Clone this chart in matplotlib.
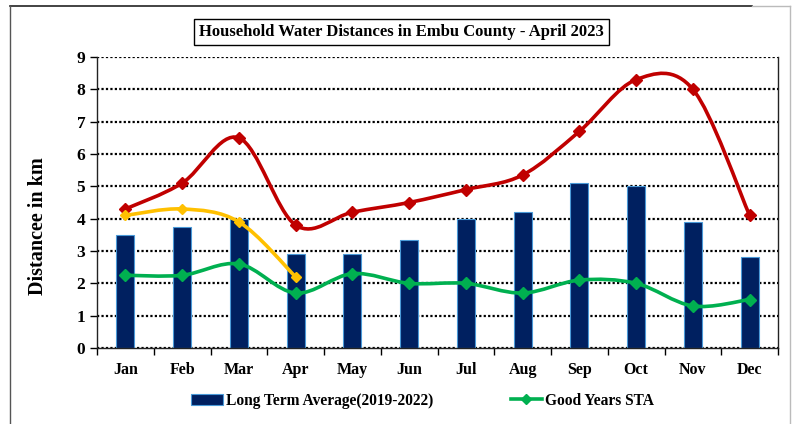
"""Household water distances chart for Embu County."""

import numpy as np
import matplotlib.pyplot as plt
from matplotlib.path import Path
from matplotlib.patches import PathPatch, Rectangle
from matplotlib.lines import Line2D

plt.rcParams['font.family'] = ['Liberation Serif', 'DejaVu Serif']
plt.rcParams['font.weight'] = 'bold'

months = ['Jan', 'Feb', 'Mar', 'Apr', 'May', 'Jun',
          'Jul', 'Aug', 'Sep', 'Oct', 'Nov', 'Dec']
long_term_avg = [3.5, 3.75, 4.0, 2.9, 2.9, 3.35, 4.0, 4.2, 5.1, 5.0, 3.9, 2.8]
good_years_sta = [2.25, 2.25, 2.6, 1.7, 2.3, 2.0, 2.0, 1.7, 2.1, 2.0, 1.3, 1.5]
bad_years = [4.3, 5.1, 6.5, 3.8, 4.2, 4.5, 4.9, 5.35, 6.7, 8.3, 8.0, 4.1]
year_2023 = [4.1, 4.3, 3.9, 2.2]

NAVY = '#002060'
RED = '#c00000'
GREEN = '#00b050'
ORANGE = '#ffc000'


def smooth_path(xs, ys):
    """Build a cubic bezier path through the points (spreadsheet-style smoothing)"""
    pts = np.column_stack([xs, ys]).astype(float)
    n = len(pts)
    verts = [pts[0]]
    codes = [Path.MOVETO]
    for i in range(n - 1):
        p0 = pts[i - 1] if i > 0 else pts[i]
        p1 = pts[i]
        p2 = pts[i + 1]
        p3 = pts[i + 2] if i + 2 < n else pts[i + 1]
        c1 = p1 + (p2 - p0) / 6.0
        c2 = p2 - (p3 - p1) / 6.0
        verts += [c1, c2, p2]
        codes += [Path.CURVE4] * 3
    return Path(verts, codes)


def draw_series(ax, values, color, marker_size, zorder):
    x = np.arange(len(values))
    ax.add_patch(PathPatch(smooth_path(x, values), facecolor='none',
                           edgecolor=color, lw=2.6, zorder=zorder,
                           capstyle='round', joinstyle='round'))
    ax.plot(x, values, ls='none', marker='D', ms=marker_size,
            color=color, zorder=zorder + 0.1)


fig = plt.figure(figsize=(7.96, 4.24), dpi=100)

# outer frame
fig.add_artist(Line2D([0.0126, 0.945], [0.986, 0.986], color='#222222',
                      lw=1.2, transform=fig.transFigure))
fig.add_artist(Line2D([0.945, 0.993], [0.986, 0.986], color='#bbbbbb',
                      lw=1.0, transform=fig.transFigure))
fig.add_artist(Line2D([0.0126, 0.0126], [0.0, 0.986], color='#555555',
                      lw=1.0, transform=fig.transFigure))
fig.add_artist(Line2D([0.993, 0.993], [0.0, 0.986], color='#bbbbbb',
                      lw=1.0, transform=fig.transFigure))

ax = fig.add_axes([0.1219, 0.1792, 0.8555, 0.6864])
x = np.arange(len(months))

ax.bar(x, long_term_avg, width=0.32, color=NAVY, edgecolor='#4a9ad8',
       linewidth=0.8, zorder=2)
draw_series(ax, good_years_sta, GREEN, 6, 3)
draw_series(ax, bad_years, RED, 6.5, 4)
draw_series(ax, year_2023, ORANGE, 5, 5)

ax.set_xlim(-0.5, 11.5)
ax.set_ylim(0, 9)
ax.set_yticks(range(0, 10))
ax.set_xticks(x)
ax.set_xticklabels(months)
ax.set_xticks(np.arange(-0.5, 12, 1), minor=True)
ax.tick_params(axis='x', which='major', length=0, pad=10, labelsize=11.5)
ax.tick_params(axis='x', which='minor', length=5, width=1, direction='out')
ax.tick_params(axis='y', length=5, width=1, direction='out', labelsize=12.5)
for lbl in ax.get_xticklabels() + ax.get_yticklabels():
    lbl.set_fontweight('bold')

ax.yaxis.grid(True, color='black', linestyle=(0, (1, 1)), lw=1.6, zorder=1)
ax.set_axisbelow(True)
ax.spines['top'].set_visible(False)
for side in ['left', 'bottom', 'right']:
    ax.spines[side].set_color('#222222')
    ax.spines[side].set_linewidth(1.0)

fig.text(0.048, 0.467, 'Distancee in km', rotation=90, ha='center',
         va='center', fontsize=14.5, fontweight='bold')

fig.text(0.504, 0.924, 'Household Water Distances in Embu County - April 2023',
         ha='center', va='center', fontsize=12, fontweight='bold',
         bbox=dict(boxstyle='square,pad=0.3', facecolor='white',
                   edgecolor='black', lw=1.0))

handles = [Rectangle((0, 0), 1, 1, facecolor=NAVY, edgecolor='#4a9ad8', lw=0.8),
           Line2D([], [], color=GREEN, lw=2.6, marker='D', ms=5)]
fig.legend(handles, ['Long Term Average(2019-2022)', 'Good Years STA'],
           loc='center', bbox_to_anchor=(0.531, 0.055), ncol=2,
           frameon=False, handlelength=2.0, handletextpad=0.2,
           columnspacing=5.0, prop={'weight': 'bold', 'size': 11.2})

fig.savefig('out.png', dpi=100)
